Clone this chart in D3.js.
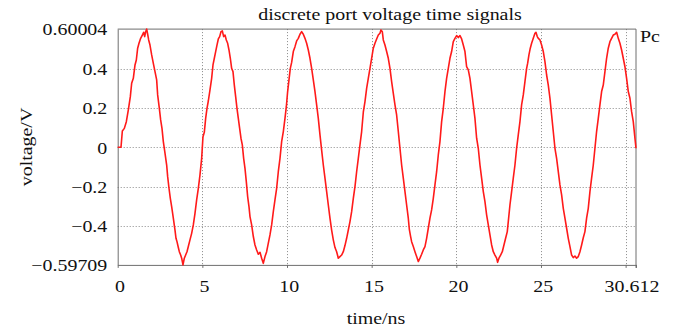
<!DOCTYPE html>
<html>
<head>
<meta charset="utf-8">
<script src="https://cdn.jsdelivr.net/npm/d3@7.9.0/dist/d3.min.js"></script>
<style>
  html, body { margin: 0; padding: 0; background: #fff; }
  svg { display: block; }
</style>
</head>
<body>
<svg id="chart" width="674" height="335"></svg>
<script>
// port voltage samples (time in ns, voltage in V)
const timeNs = [
  0, 0.195, 0.274, 0.392, 0.51, 0.628, 0.746, 0.825, 0.923, 1.022,
  1.1, 1.179, 1.258, 1.356, 1.455, 1.533, 1.593, 1.652, 1.711, 1.77,
  1.829, 1.907, 2.006, 2.104, 2.203, 2.301, 2.36, 2.459, 2.537, 2.616,
  2.695, 2.793, 2.892, 2.951, 3.03, 3.108, 3.187, 3.285, 3.384, 3.443,
  3.502, 3.581, 3.64, 3.718, 3.778, 3.856, 3.935, 4.013, 4.092, 4.171,
  4.269, 4.368, 4.466, 4.565, 4.663, 4.762, 4.86, 4.959, 5.037, 5.116,
  5.195, 5.274, 5.352, 5.451, 5.549, 5.628, 5.707, 5.786, 5.864, 5.943,
  6.022, 6.1, 6.18, 6.258, 6.337, 6.415, 6.494, 6.573, 6.652, 6.73,
  6.809, 6.888, 6.967, 7.045, 7.124, 7.203, 7.281, 7.36, 7.439, 7.518,
  7.596, 7.675, 7.754, 7.813, 7.911, 8.01, 8.108, 8.207, 8.305, 8.404,
  8.502, 8.6, 8.699, 8.797, 8.896, 8.994, 9.093, 9.191, 9.289, 9.388,
  9.486, 9.585, 9.683, 9.782, 9.88, 9.959, 10.037, 10.116, 10.195, 10.274,
  10.372, 10.471, 10.569, 10.667, 10.766, 10.864, 10.963, 11.061, 11.159, 11.258,
  11.356, 11.455, 11.553, 11.652, 11.75, 11.848, 11.947, 12.045, 12.144, 12.242,
  12.341, 12.439, 12.537, 12.636, 12.734, 12.833, 12.931, 13.03, 13.128, 13.226,
  13.325, 13.423, 13.522, 13.62, 13.719, 13.817, 13.916, 14.014, 14.112, 14.211,
  14.309, 14.408, 14.506, 14.605, 14.703, 14.801, 14.9, 14.998, 15.097, 15.195,
  15.294, 15.392, 15.49, 15.549, 15.628, 15.687, 15.785, 15.884, 15.982, 16.081,
  16.179, 16.278, 16.376, 16.474, 16.573, 16.671, 16.77, 16.868, 16.967, 17.065,
  17.163, 17.222, 17.301, 17.36, 17.459, 17.557, 17.656, 17.754, 17.852, 17.951,
  18.049, 18.148, 18.246, 18.344, 18.443, 18.541, 18.64, 18.738, 18.837, 18.935,
  19.033, 19.132, 19.23, 19.329, 19.427, 19.526, 19.624, 19.722, 19.821, 19.919,
  20.018, 20.116, 20.215, 20.313, 20.411, 20.51, 20.608, 20.707, 20.805, 20.904,
  21.002, 21.1, 21.199, 21.297, 21.396, 21.494, 21.593, 21.691, 21.789, 21.888,
  21.986, 22.085, 22.183, 22.281, 22.38, 22.439, 22.518, 22.616, 22.715, 22.813,
  22.911, 23.01, 23.167, 23.266, 23.364, 23.463, 23.561, 23.659, 23.758, 23.856,
  23.955, 24.053, 24.152, 24.211, 24.289, 24.368, 24.447, 24.545, 24.644, 24.703,
  24.781, 24.841, 24.939, 25.037, 25.136, 25.234, 25.333, 25.431, 25.53, 25.628,
  25.726, 25.825, 25.923, 26.022, 26.12, 26.219, 26.317, 26.415, 26.514, 26.612,
  26.711, 26.809, 26.907, 27.006, 27.104, 27.203, 27.301, 27.4, 27.498, 27.596,
  27.695, 27.793, 27.892, 27.99, 28.089, 28.187, 28.285, 28.384, 28.482, 28.581,
  28.679, 28.778, 28.876, 28.974, 29.073, 29.171, 29.27, 29.368, 29.467, 29.565,
  29.663, 29.762, 29.86, 29.959, 30.057, 30.156, 30.254, 30.352, 30.451, 30.549, 30.612
];
const voltageV = [
  0, 0, 0.083, 0.096, 0.13, 0.19, 0.257, 0.325, 0.35, 0.418,
  0.443, 0.503, 0.528, 0.553, 0.57, 0.584, 0.562, 0.587, 0.6, 0.574,
  0.545, 0.519, 0.469, 0.426, 0.384, 0.342, 0.266, 0.198, 0.139, 0.096,
  0.029, -0.03, -0.09, -0.149, -0.208, -0.259, -0.301, -0.36, -0.42, -0.462,
  -0.479, -0.509, -0.53, -0.547, -0.563, -0.597, -0.563, -0.547, -0.53, -0.504,
  -0.47, -0.437, -0.394, -0.335, -0.267, -0.208, -0.14, -0.056, 0.054, 0.076,
  0.147, 0.198, 0.235, 0.291, 0.35, 0.418, 0.452, 0.486, 0.519, 0.55,
  0.562, 0.587, 0.591, 0.562, 0.57, 0.545, 0.528, 0.494, 0.452, 0.401,
  0.384, 0.316, 0.257, 0.198, 0.147, 0.096, 0.046, 0.012, -0.056, -0.107,
  -0.174, -0.25, -0.301, -0.352, -0.394, -0.453, -0.496, -0.521, -0.543, -0.533,
  -0.563, -0.589, -0.555, -0.53, -0.487, -0.445, -0.394, -0.327, -0.267, -0.208,
  -0.124, -0.056, 0.029, 0.08, 0.147, 0.206, 0.283, 0.342, 0.401, 0.431,
  0.486, 0.511, 0.54, 0.553, 0.574, 0.587, 0.574, 0.553, 0.528, 0.494,
  0.452, 0.401, 0.342, 0.283, 0.215, 0.147, 0.063, -0.014, -0.09, -0.157,
  -0.225, -0.293, -0.36, -0.42, -0.47, -0.509, -0.53, -0.563, -0.555, -0.547,
  -0.53, -0.499, -0.462, -0.42, -0.377, -0.327, -0.259, -0.2, -0.124, -0.056,
  0.012, 0.08, 0.178, 0.232, 0.299, 0.35, 0.401, 0.452, 0.503, 0.528,
  0.55, 0.57, 0.579, 0.596, 0.587, 0.545, 0.519, 0.486, 0.452, 0.401,
  0.333, 0.274, 0.215, 0.164, 0.08, -0.005, -0.09, -0.157, -0.225, -0.293,
  -0.36, -0.415, -0.453, -0.479, -0.504, -0.53, -0.555, -0.58, -0.563, -0.543,
  -0.521, -0.504, -0.462, -0.411, -0.36, -0.318, -0.259, -0.191, -0.124, -0.039,
  0.029, 0.13, 0.198, 0.283, 0.35, 0.401, 0.452, 0.486, 0.536, 0.553,
  0.567, 0.557, 0.567, 0.55, 0.519, 0.486, 0.409, 0.393, 0.35, 0.283,
  0.215, 0.147, 0.046, -0.005, -0.09, -0.157, -0.225, -0.276, -0.343, -0.394,
  -0.445, -0.496, -0.53, -0.547, -0.563, -0.584, -0.563, -0.547, -0.53, -0.496,
  -0.462, -0.428, -0.293, -0.225, -0.157, -0.09, -0.005, 0.063, 0.13, 0.215,
  0.266, 0.333, 0.401, 0.426, 0.469, 0.503, 0.528, 0.553, 0.579, 0.584,
  0.562, 0.553, 0.545, 0.519, 0.486, 0.435, 0.367, 0.316, 0.249, 0.164,
  0.08, -0.005, -0.056, -0.124, -0.191, -0.242, -0.31, -0.36, -0.411, -0.462,
  -0.504, -0.547, -0.56, -0.552, -0.563, -0.555, -0.53, -0.496, -0.459, -0.428,
  -0.36, -0.31, -0.225, -0.157, -0.09, -0.005, 0.08, 0.147, 0.215, 0.283,
  0.316, 0.384, 0.452, 0.503, 0.536, 0.553, 0.57, 0.574, 0.584, 0.553,
  0.528, 0.494, 0.452, 0.409, 0.35, 0.283, 0.249, 0.181, 0.13, 0.046, -0.005
];

// axis ticks and labels
const xTicks = [0, 5, 10, 15, 20, 25, 30, 30.612];
const xTickLabels = ["0", "5", "10", "15", "20", "25", "", "30.612"];
const xGrid = [5, 10, 15, 20, 25, 30];
const yTicks = [0.60004, 0.4, 0.2, 0, -0.2, -0.4, -0.59709];
const yTickLabels = ["0.60004", "0.4", "0.2", "0", "\u22120.2", "\u22120.4", "\u22120.59709"];
const yGrid = [0.4, 0.2, 0, -0.2, -0.4];

const titleText = "discrete port voltage time signals";
const xTitle = "time/ns";
const yTitle = "voltage/V";
const seriesName = "Pc";

// layout
const plotLeft = 117.7, plotRight = 636, plotTop = 29.1, plotBottom = 264.9;
const FONT = "'Liberation Serif', 'Times New Roman', serif";
const FS = 17.5;
const STRETCH = 1.14; // the source lettering is a bit wider than Times

const svg = d3.select("#chart");

const x = d3.scaleLinear().domain([0, 30.612]).range([plotLeft, plotRight]);
const y = d3.scaleLinear().domain([-0.59709, 0.60004]).range([plotBottom, plotTop]);

// grid
const grid = svg.append("g")
  .attr("stroke", "#8a8a8a")
  .attr("stroke-width", 1)
  .attr("stroke-dasharray", "1,2");

grid.selectAll("line.v")
  .data(xGrid)
  .join("line")
  .attr("class", "v")
  .attr("x1", d => Math.round(x(d)) + 0.5)
  .attr("x2", d => Math.round(x(d)) + 0.5)
  .attr("y1", plotTop)
  .attr("y2", plotBottom);

grid.selectAll("line.h")
  .data(yGrid)
  .join("line")
  .attr("class", "h")
  .attr("x1", plotLeft)
  .attr("x2", plotRight)
  .attr("y1", d => Math.round(y(d)) + 0.5)
  .attr("y2", d => Math.round(y(d)) + 0.5);

// axes
const xAxis = svg.append("g")
  .attr("transform", `translate(0,${plotBottom})`)
  .call(d3.axisBottom(x)
    .tickValues(xTicks)
    .tickSize(3)
    .tickSizeOuter(0)
    .tickFormat((d, i) => xTickLabels[i]));

const yAxis = svg.append("g")
  .attr("transform", `translate(${plotLeft},0)`)
  .call(d3.axisLeft(y)
    .tickValues(yTicks)
    .tickSize(0)
    .tickSizeOuter(0)
    .tickFormat((d, i) => yTickLabels[i]));

[xAxis, yAxis].forEach(ax => {
  ax.attr("font-family", null).attr("font-size", null);
  ax.select(".domain").attr("stroke", "#6e6e6e");
  ax.selectAll(".tick line").attr("stroke", "#6e6e6e");
  ax.selectAll(".tick text")
    .attr("fill", "#111")
    .style("font-family", FONT)
    .style("font-size", FS + "px");
});

xAxis.selectAll(".tick text")
  .attr("y", 27)
  .attr("dy", 0)
  .attr("dx", (d, i) => i === xTicks.length - 1 ? -4 : 1.5)
  .attr("transform", `scale(${STRETCH},1)`);

yAxis.selectAll(".tick text")
  .attr("x", -10.4 / STRETCH)
  .attr("dy", "0.33em")
  .attr("transform", `scale(${STRETCH},1)`);

// top and right frame
svg.append("path")
  .attr("d", `M${plotLeft},${plotTop}H${plotRight}V${plotBottom + 3}`)
  .attr("fill", "none")
  .attr("stroke", "#6e6e6e")
  .attr("stroke-width", 1);

// signal
const line = d3.line()
  .x(d => x(d[0]))
  .y(d => y(d[1]));

svg.append("path")
  .datum(d3.zip(timeNs, voltageV))
  .attr("fill", "none")
  .attr("stroke", "#ff1a1a")
  .attr("stroke-width", 1.6)
  .attr("stroke-linejoin", "round")
  .attr("d", line);

// text helper: stretched serif lettering
function addText(px, py, str, anchor, rotate) {
  const g = svg.append("g")
    .attr("transform", `translate(${px},${py})` + (rotate ? ` rotate(${rotate})` : ""));
  g.append("text")
    .attr("transform", `scale(${STRETCH},1)`)
    .attr("text-anchor", anchor)
    .attr("fill", "#111")
    .style("font-family", FONT)
    .style("font-size", FS + "px")
    .text(str);
}

addText(390, 20, titleText, "middle");
addText(376, 324, xTitle, "middle");
addText(32, 147, yTitle, "middle", -90);
addText(640, 41.5, seriesName, "start");
</script>
</body>
</html>
